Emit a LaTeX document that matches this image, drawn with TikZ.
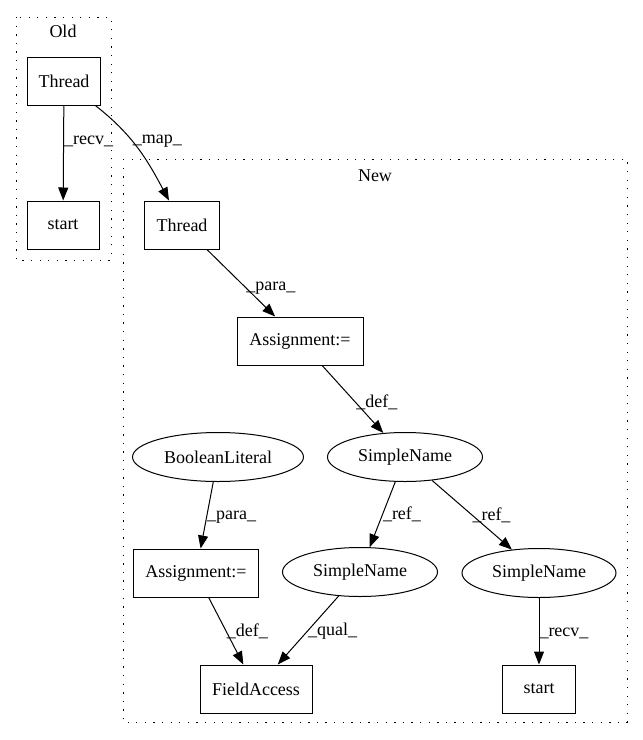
\documentclass[tikz,border=0pt]{standalone}
\usepackage{fontspec}
\setmainfont{Liberation Serif}
\usetikzlibrary{arrows.meta,shapes.geometric}

\begin{document}
\begin{tikzpicture}[x=1pt,y=1pt,->,>={Triangle[length=13pt,width=10pt]},line width=1pt,
	font=\fontsize{18}{21}\selectfont,
	box node/.style={rectangle,draw,minimum height=48pt,inner sep=0pt},
	name node/.style={ellipse,draw,minimum height=49pt,inner sep=0pt},
	cluster/.style={draw,-,line width=1pt,dash pattern=on 1.3pt off 7.3pt}]
	\useasboundingbox (0,0) rectangle (643,-740);
	
	% clusters
	\draw[cluster] (16,-17) rectangle (111,-260);
	\node (old) at (63,-31) {Old};
	\draw[cluster] (123,-159) rectangle (627,-722);
	\node (new) at (375,-176) {New};
	
	\node[box node,minimum width=73pt] (othread) at (64,-81) {Thread};
	\node[box node,minimum width=72pt] (ostart) at (63,-225) {start};
	\node[box node,minimum width=75pt] (nthread) at (182,-225) {Thread};
	\node[box node,minimum width=126pt] (assign1) at (300,-341) {Assignment:=};
	\node[name node,minimum width=171pt] (boolean) at (218,-457) {BooleanLiteral};
	\node[name node,minimum width=155pt] (sname1) at (405,-457) {SimpleName};
	\node[box node,minimum width=125pt] (assign2) at (196,-573) {Assignment:=};
	\node[name node,minimum width=155pt] (sname2) at (360,-572) {SimpleName};
	\node[name node,minimum width=154pt] (sname3) at (539,-573) {SimpleName};
	\node[box node,minimum width=112pt] (field) at (256,-689) {FieldAccess};
	\node[box node,minimum width=73pt] (nstart) at (539,-689) {start};
	
	\path[every node/.style={anchor=west,inner sep=0pt}]
	(othread) edge node[pos=.375] {\_recv\_} (ostart)
	(othread) edge[out=-38,in=118] node[pos=.42] {\_map\_} (nthread)
	(nthread) edge node[pos=.57] {\_para\_} (assign1)
	(assign1) edge node[pos=.55] {\_def\_} (sname1)
	(boolean) edge node[pos=.53] {\_para\_} (assign2)
	(sname1) edge node[pos=.5] {\_ref\_} (sname2)
	(sname1) edge node[pos=.5] {\_ref\_} (sname3)
	(assign2) edge node[pos=.51] {\_def\_} (field)
	(sname2) edge node[pos=.51] {\_qual\_} (field)
	(sname3) edge node[pos=.53] {\_recv\_} (nstart)
	;
\end{tikzpicture}
\end{document}
